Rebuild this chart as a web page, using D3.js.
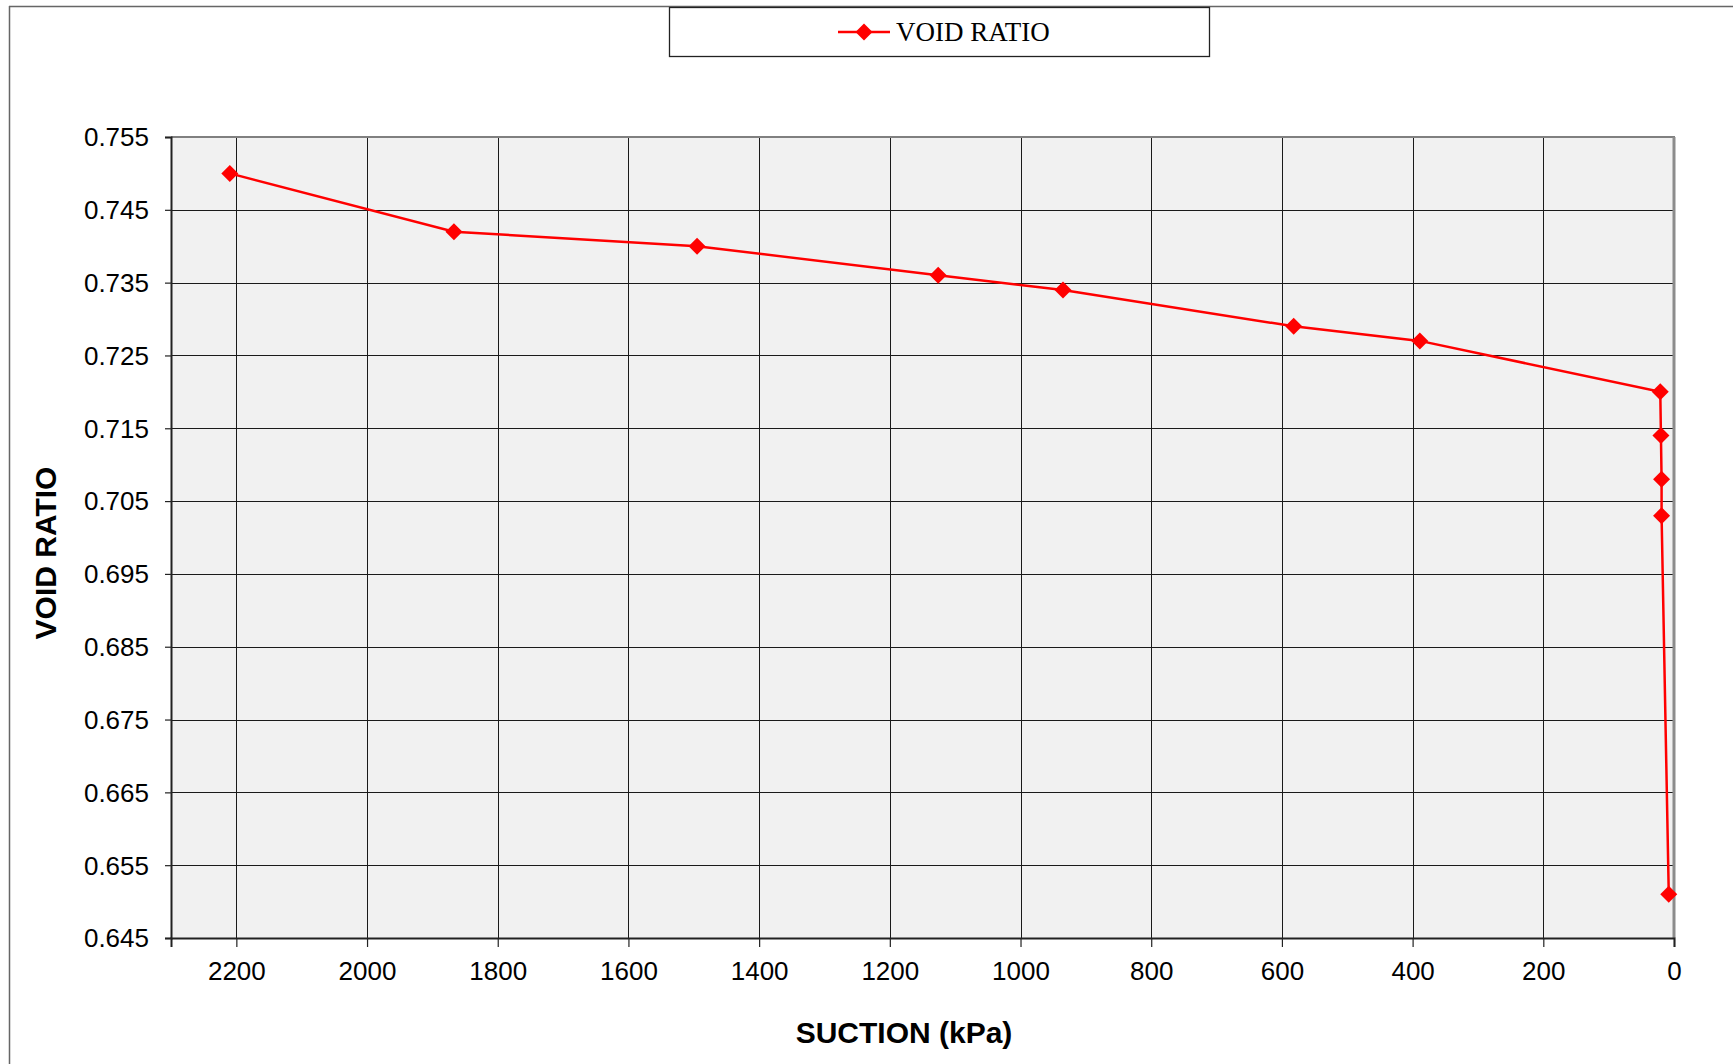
<!DOCTYPE html>
<meta charset="utf-8">
<head>
    <title>Void ratio vs suction</title>
    <style>
      body { margin: 0; background: #fff; }
      svg { display: block; }
    </style>
</head>
<body>
    <script src="https://d3js.org/d3.v7.min.js"></script>
    <div id="chart"></div>
    <script>

        // data
        var suction   = [2210, 1867, 1495, 1126, 935, 582, 389, 21, 20, 19, 19, 8];
        var voidRatio = [0.750, 0.742, 0.740, 0.736, 0.734, 0.729, 0.727, 0.720, 0.714, 0.708, 0.703, 0.651];

        var xTicks = [2200, 2000, 1800, 1600, 1400, 1200, 1000, 800, 600, 400, 200, 0];
        var yTicks = [0.645, 0.655, 0.665, 0.675, 0.685, 0.695, 0.705, 0.715, 0.725, 0.735, 0.745, 0.755];

        var seriesName = 'VOID RATIO';
        var xTitle = 'SUCTION (kPa)';
        var yTitle = 'VOID RATIO';

        var width = 1733;
        var height = 1064;
        var plot = { left: 171, right: 1674, top: 137, bottom: 938 };

        var svg = d3.select('#chart')
          .append('svg')
          .attr('width', width)
          .attr('height', height);

        // outer chart frame (only top & left visible in the capture)
        svg.append('line')
          .attr('x1', 9).attr('x2', width).attr('y1', 6.5).attr('y2', 6.5)
          .attr('stroke', '#666').attr('stroke-width', 1.5);
        svg.append('line')
          .attr('x1', 9.5).attr('x2', 9.5).attr('y1', 6).attr('y2', height)
          .attr('stroke', '#666').attr('stroke-width', 1.5);

        var x = d3.scaleLinear()
          .domain([2300, 0])
          .range([plot.left, plot.right]);

        var y = d3.scaleLinear()
          .domain([0.645, 0.755])
          .range([plot.bottom, plot.top]);

        // plot background
        svg.append('rect')
          .attr('x', plot.left).attr('y', plot.top)
          .attr('width', plot.right - plot.left)
          .attr('height', plot.bottom - plot.top)
          .attr('fill', '#f1f1f1');

        // gridlines
        svg.append('g')
          .selectAll('line.h')
          .data(yTicks)
          .enter()
          .append('line')
          .attr('x1', plot.left).attr('x2', plot.right)
          .attr('y1', function(d) { return Math.round(y(d)) + 0.5; })
          .attr('y2', function(d) { return Math.round(y(d)) + 0.5; })
          .attr('stroke', '#1a1a1a').attr('stroke-width', 1);

        svg.append('g')
          .selectAll('line.v')
          .data(xTicks.filter(function(d) { return d > 0; }))
          .enter()
          .append('line')
          .attr('y1', plot.top).attr('y2', plot.bottom)
          .attr('x1', function(d) { return Math.round(x(d)) + 0.5; })
          .attr('x2', function(d) { return Math.round(x(d)) + 0.5; })
          .attr('stroke', '#1a1a1a').attr('stroke-width', 1);

        // plot border (top/right gray)
        svg.append('line')
          .attr('x1', plot.left).attr('x2', plot.right + 1)
          .attr('y1', plot.top).attr('y2', plot.top)
          .attr('stroke', '#808080').attr('stroke-width', 2);
        svg.append('line')
          .attr('x1', plot.right).attr('x2', plot.right)
          .attr('y1', plot.top).attr('y2', plot.bottom)
          .attr('stroke', '#8c8c8c').attr('stroke-width', 3);

        // axes
        var xAxis = d3.axisBottom(x)
          .tickValues(xTicks)
          .tickSize(9)
          .tickPadding(10)
          .tickFormat(d3.format('d'));

        var yAxis = d3.axisLeft(y)
          .tickValues(yTicks)
          .tickSize(6)
          .tickPadding(16)
          .tickFormat(d3.format('.3f'));

        var gx = svg.append('g')
          .attr('transform', 'translate(0,' + plot.bottom + ')')
          .call(xAxis);
        var gy = svg.append('g')
          .attr('transform', 'translate(' + plot.left + ',0)')
          .call(yAxis);

        [gx, gy].forEach(function(g) {
          g.select('.domain').attr('stroke', '#222').attr('stroke-width', 2);
          g.selectAll('.tick line').attr('stroke', '#222').attr('stroke-width', 1.2);
          g.selectAll('.tick text')
            .attr('fill', '#000')
            .style('font-family', '"Liberation Sans", Arial, sans-serif')
            .style('font-size', '26px');
        });
        gx.selectAll('.tick text').attr('dy', '0.9em');
        gy.selectAll('.tick text').attr('dy', '0.34em');

        // series
        var points = suction.map(function(s, i) { return { x: s, y: voidRatio[i] }; });

        var line = d3.line()
          .x(function(d) { return x(d.x); })
          .y(function(d) { return y(d.y); });

        svg.append('path')
          .datum(points)
          .attr('d', line)
          .attr('fill', 'none')
          .attr('stroke', '#ff0000')
          .attr('stroke-width', 2.5);

        var diamond = 'M0,-8.5L8.5,0L0,8.5L-8.5,0Z';

        svg.append('g')
          .selectAll('path')
          .data(points)
          .enter()
          .append('path')
          .attr('d', diamond)
          .attr('transform', function(d) { return 'translate(' + x(d.x) + ',' + y(d.y) + ')'; })
          .attr('fill', '#ff0000');

        // axis titles
        svg.append('text')
          .attr('x', 904)
          .attr('y', 1043)
          .attr('text-anchor', 'middle')
          .style('font-family', '"Liberation Sans", Arial, sans-serif')
          .style('font-weight', 'bold')
          .style('font-size', '30px')
          .text(xTitle);

        svg.append('text')
          .attr('transform', 'translate(56,553) rotate(-90)')
          .attr('text-anchor', 'middle')
          .style('font-family', '"Liberation Sans", Arial, sans-serif')
          .style('font-weight', 'bold')
          .style('font-size', '30px')
          .text(yTitle);

        // legend
        var legend = svg.append('g');
        legend.append('rect')
          .attr('x', 669.5).attr('y', 7.5)
          .attr('width', 540).attr('height', 49)
          .attr('fill', '#fff')
          .attr('stroke', '#222').attr('stroke-width', 1.3);
        legend.append('line')
          .attr('x1', 838).attr('x2', 890)
          .attr('y1', 32).attr('y2', 32)
          .attr('stroke', '#ff0000').attr('stroke-width', 2.5);
        legend.append('path')
          .attr('d', diamond)
          .attr('transform', 'translate(864,32)')
          .attr('fill', '#ff0000');
        legend.append('text')
          .attr('x', 896)
          .attr('y', 41)
          .style('font-family', '"Liberation Serif", "Times New Roman", serif')
          .style('font-size', '27px')
          .text(seriesName);
  </script>
</body>
